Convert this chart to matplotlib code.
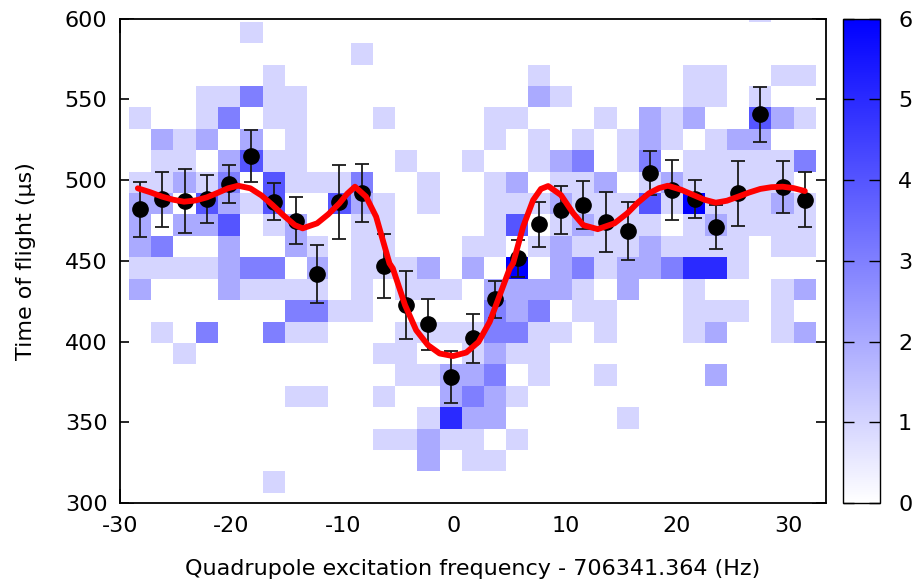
import numpy as np
import matplotlib.pyplot as plt
from matplotlib.colors import LinearSegmentedColormap

# scan frequencies (offset from 706341.364 Hz)
freq = [-28.2, -26.2, -24.2, -22.2, -20.2, -18.2, -16.2, -14.2, -12.3, -10.3,
        -8.3, -6.3, -4.3, -2.3, -0.3, 1.7, 3.7, 5.7, 7.6, 9.6,
        11.6, 13.6, 15.6, 17.6, 19.6, 21.6, 23.5, 25.5, 27.5, 29.5, 31.5]

# mean time of flight per frequency step and its error (us)
tof_mean = [482.0, 488.2, 487.0, 488.2, 497.5, 514.9, 486.6, 474.8, 441.9, 486.6,
            491.8, 446.7, 422.5, 410.6, 377.9, 401.9, 426.1, 451.5, 472.5, 481.4,
            484.5, 474.2, 468.6, 504.1, 493.8, 488.2, 471.1, 491.8, 540.7, 495.7, 487.8]
tof_err = [17, 17, 20, 15, 12, 16, 11.5, 14.5, 18, 23,
           18, 20, 21, 16, 16, 15, 11.5, 11.5, 14, 15,
           15, 18.7, 18, 13.6, 18.7, 12, 13.7, 20, 17, 16, 17]

# fitted line shape
fit_freq = [-28.4, -27.3, -26.2, -25.2, -24.25, -23.2, -22.2, -21.2, -20.3, -19.4,
            -18.3, -17.3, -16.3, -15.3, -14.3, -13.6, -12.3, -11.3, -10.3, -9.6,
            -8.9, -7.9, -7.0, -6.4, -5.8, -5.5, -4.4, -3.4, -2.35, -1.3,
            -0.1, 1.1, 2.2, 3.2, 4.1, 5.0, 5.3, 6.2, 7.1, 7.8,
            8.45, 9.6, 10.7, 11.6, 12.9, 14.4, 15.55, 16.5, 17.5, 18.4,
            19.2, 20.4, 21.5, 22.5, 23.5, 24.5, 25.5, 26.5, 27.5, 28.5,
            29.5, 30.5, 31.5]
fit_tof = [494.9, 492.5, 489.7, 487.8, 486.6, 487.4, 489.3, 492.2, 494.9, 496.5,
           494.9, 490.5, 484.5, 478.0, 472.1, 470.1, 473.2, 478.8, 485.6, 491.5,
           495.9, 489.7, 477.3, 462.8, 448.4, 445.3, 422.5, 407.0, 397.8, 392.6,
           391.0, 393.2, 399.8, 412.2, 428.7, 445.3, 448.4, 471.1, 487.6, 494.5,
           496.3, 490.7, 479.4, 472.1, 469.6, 473.2, 479.4, 486.0, 491.8, 495.0,
           496.5, 494.0, 490.7, 487.8, 486.0, 487.2, 489.7, 492.3, 494.5, 495.6,
           495.9, 495.0, 493.2]

# ion counts per (time of flight, frequency) cell, top row = longest flight time
counts_rows = [
    "0000000000" "0000000000" "0000000010" "0",
    "0000010000" "0000000000" "0000000000" "0",
    "0000000000" "1000000000" "0000000000" "0",
    "0000001000" "0000000010" "0000011001" "1",
    "0001131100" "0000000021" "0000011010" "0",
    "1001301100" "0100001100" "0102120042" "1",
    "0212020100" "0000001010" "1012101220" "0",
    "0110241100" "0010010012" "3013011111" "3",
    "1121304111" "3001001201" "1201211111" "0",
    "2204214004" "2101001112" "1114161112" "1",
    "2022401200" "1100001401" "2111012111" "1",
    "2300200210" "1100011012" "1112111101" "1",
    "1111233020" "1112020602" "3122355100" "0",
    "2000211110" "1011102222" "1020010001" "2",
    "0000000331" "1000003230" "1100011101" "0",
    "0103003110" "0011113311" "0100012001" "2",
    "0010000000" "0110012110" "0000000000" "0",
    "0000000000" "0011223010" "0100002000" "0",
    "0000000110" "0100232100" "0000000000" "0",
    "0000000000" "0001522000" "0010000000" "0",
    "0000000000" "0112110100" "0000000000" "0",
    "0000000000" "0002011000" "0000000000" "0",
    "0000001000" "0000000000" "0000000000" "0",
    "0000000000" "0000000000" "0000000000" "0",
]
tof_bin_start = 293.04
tof_bin_width = 13.26

counts = np.array([[int(c) for c in row] for row in counts_rows])[::-1]
f = np.array(freq)
step = np.diff(f).mean()
x_edges = np.concatenate([[f[0] - step / 2], (f[:-1] + f[1:]) / 2, [f[-1] + step / 2]])
y_edges = tof_bin_start + tof_bin_width * np.arange(counts.shape[0] + 1)

plt.rcParams["font.family"] = "DejaVu Sans"
plt.rcParams["font.size"] = 16
plt.rcParams["axes.unicode_minus"] = False

cmap = LinearSegmentedColormap.from_list("wb", ["#ffffff", "#0000ff"])

fig = plt.figure(figsize=(9.15, 5.83), dpi=100)
ax = fig.add_axes([120 / 915, 80 / 583, 706 / 915, 484.4 / 583])
cax = fig.add_axes([843 / 915, 80 / 583, 37 / 915, 484.4 / 583])

mesh = ax.pcolormesh(x_edges, y_edges, counts, cmap=cmap, vmin=0, vmax=6,
                     shading="flat", zorder=2)
ax.errorbar(freq, tof_mean, yerr=tof_err, fmt="o", color="black", ms=11,
            ecolor="#1a1a1a", elinewidth=1.3, capsize=5, capthick=1.3, zorder=3)
ax.plot(fit_freq, fit_tof, color="#ff0000", lw=4.2, zorder=4,
        solid_capstyle="round", solid_joinstyle="round")

ax.set_xlim(-30, 33.4)
ax.set_ylim(300, 600)
ax.set_xticks([-30, -20, -10, 0, 10, 20, 30])
ax.set_yticks([300, 350, 400, 450, 500, 550, 600])
ax.tick_params(direction="in", length=10, width=1.2, top=True, right=True, pad=9)
ax.xaxis.set_zorder(0.5)
ax.yaxis.set_zorder(0.5)
for s in ax.spines.values():
    s.set_linewidth(1.3)
    s.set_zorder(5)

ax.set_xlabel("Quadrupole excitation frequency - 706341.364 (Hz)", labelpad=17)
ax.set_ylabel("Time of flight (µs)", labelpad=21)

cb = fig.colorbar(mesh, cax=cax)
cb.set_ticks([0, 1, 2, 3, 4, 5, 6])
cb.outline.set_linewidth(1.0)
cax.tick_params(direction="in", length=8, width=1.0, left=True, right=True, pad=13)

fig.savefig("out.png", dpi=100)
